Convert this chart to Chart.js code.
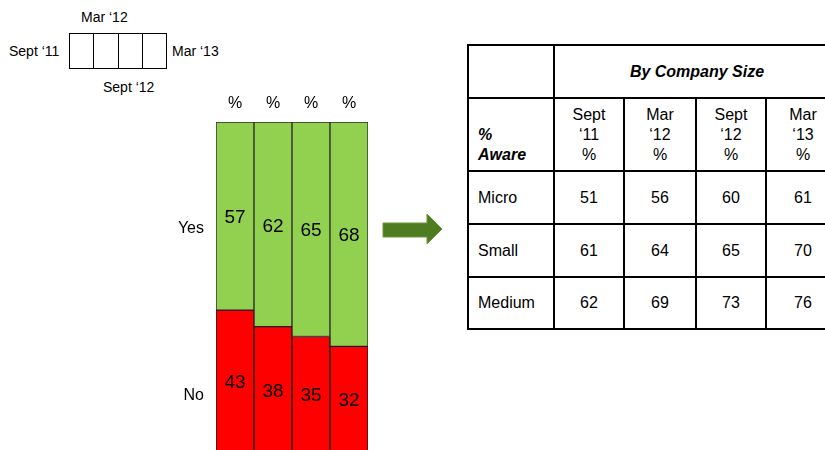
<!DOCTYPE html>
<html>
<head>
<meta charset="utf-8">
<script src="https://cdn.jsdelivr.net/npm/chart.js@4"></script>
<style>
  html, body { margin:0; padding:0; background:#fff; overflow:hidden; }
  #wrap { position:relative; width:825px; height:450px; overflow:hidden; font-family:"Liberation Sans", Arial, Helvetica, sans-serif; color:#000; }
  .lbl { position:absolute; font-size:14px; white-space:nowrap; }
  #key { position:absolute; left:69px; top:33px; width:98px; height:36px; box-sizing:border-box; border:1.5px solid #000; display:flex; }
  #key div { flex:1; border-right:1.5px solid #000; }
  #key div:last-child { border-right:none; }
  #chartBox { position:absolute; left:160px; top:90px; width:220px; height:370px; }
  #arrow { position:absolute; left:380px; top:210px; }
  table { position:absolute; left:467px; top:44px; width:372px; border-collapse:collapse; font-size:16px; table-layout:fixed; }
  td { border:2px solid #000; text-align:center; padding:0; }
  td.first { text-align:left; padding-left:9px; }
  .bi { font-weight:bold; font-style:italic; }
</style>
</head>
<body>
<div id="wrap">
  <div class="lbl" style="left:81px; top:9px;">Mar ‘12</div>
  <div class="lbl" style="left:9px; top:43px;">Sept ‘11</div>
  <div class="lbl" style="left:172px; top:43px;">Mar ‘13</div>
  <div class="lbl" style="left:103px; top:79px;">Sept ‘12</div>
  <div id="key"><div></div><div></div><div></div><div></div></div>

  <div id="chartBox"><canvas id="c" width="220" height="370"></canvas></div>

  <svg id="arrow" width="66" height="40" viewBox="0 0 66 40">
    <polygon points="3,13 47,13 47,4 62,19 47,34 47,27 3,27" fill="#4E7D21" stroke="#6B9A38" stroke-width="1"/>
  </svg>

  <table id="tbl"></table>
</div>
<script>
// ---- Data ----
const waves = ["Sept ‘11", "Mar ‘12", "Sept ‘12", "Mar ‘13"];
const yesValues = [57, 62, 65, 68];
const noValues = [43, 38, 35, 32];
const seriesNames = ["Yes", "No"];

const tableTitle = "By Company Size";
const tableCorner = ["%", "Aware"];
const tableHeaders = [["Sept", "‘11", "%"], ["Mar", "‘12", "%"], ["Sept", "‘12", "%"], ["Mar", "‘13", "%"]];
const companySizes = ["Micro", "Small", "Medium"];
const microAware = [51, 56, 60, 61];
const smallAware = [61, 64, 65, 70];
const mediumAware = [62, 69, 73, 76];

// ---- Table ----
(function buildTable() {
  const colW = [86, 70, 72, 70, 74];
  const rowH = [53, 73, 53, 53, 52];
  const t = document.getElementById('tbl');
  const cg = document.createElement('colgroup');
  colW.forEach(w => { const c = document.createElement('col'); c.style.width = w + 'px'; cg.appendChild(c); });
  t.appendChild(cg);
  let tr = t.insertRow(); tr.style.height = rowH[0] + 'px';
  tr.insertCell().className = 'first';
  let td = tr.insertCell(); td.colSpan = 4; td.className = 'bi'; td.textContent = tableTitle;
  tr = t.insertRow(); tr.style.height = rowH[1] + 'px';
  td = tr.insertCell(); td.className = 'first bi';
  td.style.verticalAlign = 'bottom'; td.style.lineHeight = '20px'; td.style.paddingBottom = '5px';
  td.innerHTML = tableCorner.join('<br>');
  tableHeaders.forEach(h => { const c = tr.insertCell(); c.style.lineHeight = '20px'; c.innerHTML = h.join('<br>'); });
  const rows = [microAware, smallAware, mediumAware];
  rows.forEach((vals, i) => {
    const r = t.insertRow(); r.style.height = rowH[i + 2] + 'px';
    const f = r.insertCell(); f.className = 'first'; f.textContent = companySizes[i];
    vals.forEach(v => { r.insertCell().textContent = v; });
  });
})();

// ---- Chart ----
const labelPlugin = {
  id: 'labels',
  afterDatasetsDraw(chart) {
    const ctx = chart.ctx;
    ctx.save();
    ctx.fillStyle = '#000';
    ctx.textBaseline = 'middle';
    ctx.textAlign = 'center';
    ctx.font = '19px "Liberation Sans", Arial, sans-serif';
    chart.data.datasets.forEach((ds, di) => {
      chart.getDatasetMeta(di).data.forEach((bar, i) => {
        const top = Math.min(bar.y, bar.base), bot = Math.max(bar.y, bar.base);
        ctx.fillText(String(ds.data[i]), bar.x, (top + bot) / 2 + 2);
      });
    });
    // % above each bar
    ctx.font = '16px "Liberation Sans", Arial, sans-serif';
    chart.getDatasetMeta(0).data.forEach(bar => ctx.fillText('%', bar.x, chart.chartArea.top - 18));
    // Yes / No labels
    ctx.textAlign = 'right';
    const y = chart.scales.y;
    ctx.fillText(seriesNames[0], chart.chartArea.left - 12, y.getPixelForValue(100 - yesValues[0] / 2) + 13);
    ctx.fillText(seriesNames[1], chart.chartArea.left - 12, y.getPixelForValue(noValues[0] / 2) + 15);
    ctx.restore();
  }
};

new Chart(document.getElementById('c'), {
  type: 'bar',
  data: {
    labels: waves,
    datasets: [
      { label: seriesNames[1], data: noValues, backgroundColor: '#FF0000', borderColor: '#1a1a1a', borderWidth: 1, borderSkipped: false },
      { label: seriesNames[0], data: yesValues, backgroundColor: '#92D050', borderColor: '#2a2a2a', borderWidth: 1, borderSkipped: false }
    ]
  },
  options: {
    responsive: false,
    animation: false,
    events: [],
    layout: { padding: { left: 56, right: 12, top: 32, bottom: 8 } },
    plugins: { legend: { display: false }, tooltip: { enabled: false } },
    scales: {
      x: { stacked: true, display: false, grid: { display: false } },
      y: { stacked: true, display: false, min: 0, max: 100 }
    },
    datasets: { bar: { barPercentage: 1, categoryPercentage: 1 } }
  },
  plugins: [labelPlugin]
});
</script>
</body>
</html>
